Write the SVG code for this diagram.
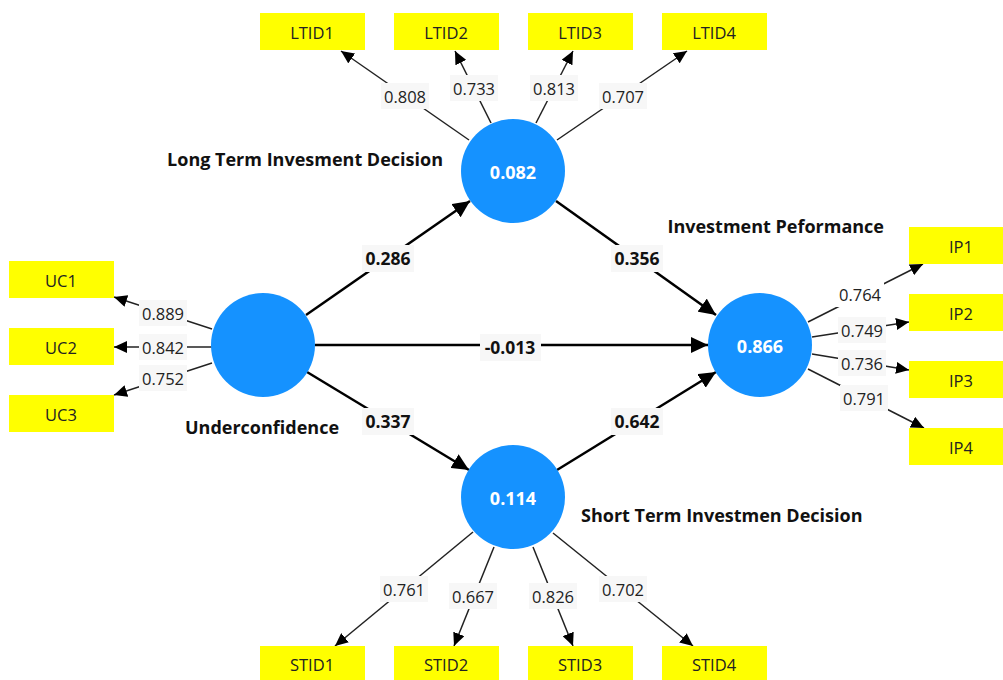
<svg xmlns="http://www.w3.org/2000/svg" width="1003" height="680" viewBox="0 0 1003 680">
<style>
text{font-family:"Open Sans","Noto Sans",sans-serif;}
.box{fill:#ffff00;}
.bt{font-size:16.5px;fill:#222;text-anchor:middle;dominant-baseline:central;}
.lv{fill:#1592ff;}
.lvt{font-size:18px;font-weight:bold;fill:#fff;text-anchor:middle;dominant-baseline:central;}
.name{font-size:18px;font-weight:bold;fill:#111;}
.ld{stroke:#222;stroke-width:1.5;fill:none;marker-end:url(#al);}
.st{stroke:#000;stroke-width:2.5;fill:none;marker-end:url(#as);}
.lbg{fill:#f7f7f7;}
.lt{font-size:16.5px;fill:#222;text-anchor:middle;dominant-baseline:central;}
.pt{font-size:17.5px;font-weight:bold;fill:#111;text-anchor:middle;dominant-baseline:central;}
</style>
<defs>
<marker id="al" markerUnits="userSpaceOnUse" markerWidth="14" markerHeight="12" refX="13" refY="6" orient="auto"><path d="M0,0 L13,6 L0,12 z" fill="#000"/></marker>
<marker id="as" markerUnits="userSpaceOnUse" markerWidth="18" markerHeight="16" refX="17" refY="8" orient="auto"><path d="M0,0 L17,8 L0,16 z" fill="#000"/></marker>
</defs>
<rect width="1003" height="680" fill="#fff"/>

<g id="connectors">
  <!-- structural -->
  <line class="st" x1="306" y1="315" x2="470" y2="201"/>
  <line class="st" x1="556" y1="201" x2="716" y2="315"/>
  <line class="st" x1="315" y1="345" x2="708" y2="345"/>
  <line class="st" x1="307" y1="372" x2="469" y2="470"/>
  <line class="st" x1="557" y1="470" x2="716" y2="372"/>
  <!-- LTID loadings -->
  <line class="ld" x1="469" y1="140" x2="341" y2="51"/>
  <line class="ld" x1="491" y1="123" x2="455" y2="51"/>
  <line class="ld" x1="536" y1="123" x2="573" y2="51"/>
  <line class="ld" x1="557" y1="140" x2="687" y2="51"/>
  <!-- UC loadings -->
  <line class="ld" x1="212" y1="329" x2="114" y2="297"/>
  <line class="ld" x1="212" y1="347" x2="114" y2="347"/>
  <line class="ld" x1="212" y1="363" x2="114" y2="395"/>
  <!-- IP loadings -->
  <line class="ld" x1="808" y1="322" x2="923" y2="264"/>
  <line class="ld" x1="812" y1="337" x2="909" y2="322"/>
  <line class="ld" x1="812" y1="354" x2="909" y2="370"/>
  <line class="ld" x1="808" y1="369" x2="924" y2="428"/>
  <!-- STID loadings -->
  <line class="ld" x1="473" y1="532" x2="335" y2="646"/>
  <line class="ld" x1="494" y1="547" x2="454" y2="646"/>
  <line class="ld" x1="533" y1="547" x2="573" y2="646"/>
  <line class="ld" x1="553" y1="533" x2="693" y2="646"/>

  <!-- loading labels -->
  <rect class="lbg" x="381" y="83" width="48" height="26"/><text class="lt" x="405" y="96">0.808</text>
  <rect class="lbg" x="450" y="75" width="48" height="26"/><text class="lt" x="474" y="88">0.733</text>
  <rect class="lbg" x="530" y="75" width="48" height="26"/><text class="lt" x="554" y="88">0.813</text>
  <rect class="lbg" x="599" y="83" width="48" height="26"/><text class="lt" x="623" y="96">0.707</text>

  <rect class="lbg" x="139" y="300" width="48" height="26"/><text class="lt" x="163" y="313">0.889</text>
  <rect class="lbg" x="139" y="334" width="48" height="26"/><text class="lt" x="163" y="347">0.842</text>
  <rect class="lbg" x="139" y="365" width="48" height="26"/><text class="lt" x="163" y="378">0.752</text>

  <rect x="836" y="281" width="48" height="26" fill="#fff"/><text class="lt" x="860" y="294">0.764</text>
  <rect class="lbg" x="838" y="317" width="48" height="26"/><text class="lt" x="862" y="330">0.749</text>
  <rect class="lbg" x="838" y="350" width="48" height="26"/><text class="lt" x="862" y="363">0.736</text>
  <rect class="lbg" x="840" y="385" width="48" height="26"/><text class="lt" x="864" y="398">0.791</text>

  <rect class="lbg" x="380" y="576" width="48" height="26"/><text class="lt" x="404" y="589">0.761</text>
  <rect class="lbg" x="449" y="583" width="48" height="26"/><text class="lt" x="473" y="596">0.667</text>
  <rect class="lbg" x="529" y="583" width="48" height="26"/><text class="lt" x="553" y="596">0.826</text>
  <rect class="lbg" x="599" y="576" width="48" height="26"/><text class="lt" x="623" y="589">0.702</text>

  <!-- path labels -->
  <rect class="lbg" x="362" y="245" width="52" height="27"/><text class="pt" x="388" y="258">0.286</text>
  <rect class="lbg" x="611" y="245" width="52" height="27"/><text class="pt" x="637" y="258">0.356</text>
  <rect class="lbg" x="480" y="334" width="61" height="27"/><text class="pt" x="510" y="347">-0.013</text>
  <rect class="lbg" x="362" y="408" width="52" height="27"/><text class="pt" x="388" y="421">0.337</text>
  <rect class="lbg" x="611" y="408" width="52" height="27"/><text class="pt" x="637" y="421">0.642</text>
</g>

<g id="LTID">
  <circle class="lv" cx="513" cy="171" r="52"/>
  <text class="lvt" x="513" y="172">0.082</text>
  <text class="name" x="443" y="166" text-anchor="end">Long Term Invesment Decision</text>
</g>
<g id="UC">
  <circle class="lv" cx="263" cy="345" r="52"/>
  <text class="name" x="262" y="434" text-anchor="middle">Underconfidence</text>
</g>
<g id="IP">
  <circle class="lv" cx="760" cy="345" r="52"/>
  <text class="lvt" x="760" y="346">0.866</text>
  <text class="name" x="884" y="233" text-anchor="end">Investment Peformance</text>
</g>
<g id="STID">
  <circle class="lv" cx="513" cy="497" r="52"/>
  <text class="lvt" x="513" y="498">0.114</text>
  <text class="name" x="581" y="522">Short Term Investmen Decision</text>
</g>

<g id="LTID1"><rect class="box" x="260" y="13" width="105" height="37"/><text class="bt" x="312" y="32">LTID1</text></g>
<g id="LTID2"><rect class="box" x="394" y="13" width="105" height="37"/><text class="bt" x="446" y="32">LTID2</text></g>
<g id="LTID3"><rect class="box" x="528" y="13" width="105" height="37"/><text class="bt" x="580" y="32">LTID3</text></g>
<g id="LTID4"><rect class="box" x="662" y="13" width="105" height="37"/><text class="bt" x="714" y="32">LTID4</text></g>

<g id="UC1"><rect class="box" x="9" y="261" width="105" height="37"/><text class="bt" x="61" y="280">UC1</text></g>
<g id="UC2"><rect class="box" x="9" y="328" width="105" height="37"/><text class="bt" x="61" y="347">UC2</text></g>
<g id="UC3"><rect class="box" x="9" y="395" width="105" height="37"/><text class="bt" x="61" y="414">UC3</text></g>

<g id="IP1"><rect class="box" x="909" y="227" width="105" height="37"/><text class="bt" x="961" y="246">IP1</text></g>
<g id="IP2"><rect class="box" x="909" y="294" width="105" height="37"/><text class="bt" x="961" y="313">IP2</text></g>
<g id="IP3"><rect class="box" x="909" y="361" width="105" height="37"/><text class="bt" x="961" y="380">IP3</text></g>
<g id="IP4"><rect class="box" x="909" y="428" width="105" height="37"/><text class="bt" x="961" y="447">IP4</text></g>

<g id="STID1"><rect class="box" x="260" y="646" width="105" height="37"/><text class="bt" x="312" y="664">STID1</text></g>
<g id="STID2"><rect class="box" x="394" y="646" width="105" height="37"/><text class="bt" x="446" y="664">STID2</text></g>
<g id="STID3"><rect class="box" x="528" y="646" width="105" height="37"/><text class="bt" x="580" y="664">STID3</text></g>
<g id="STID4"><rect class="box" x="662" y="646" width="105" height="37"/><text class="bt" x="714" y="664">STID4</text></g>
</svg>
